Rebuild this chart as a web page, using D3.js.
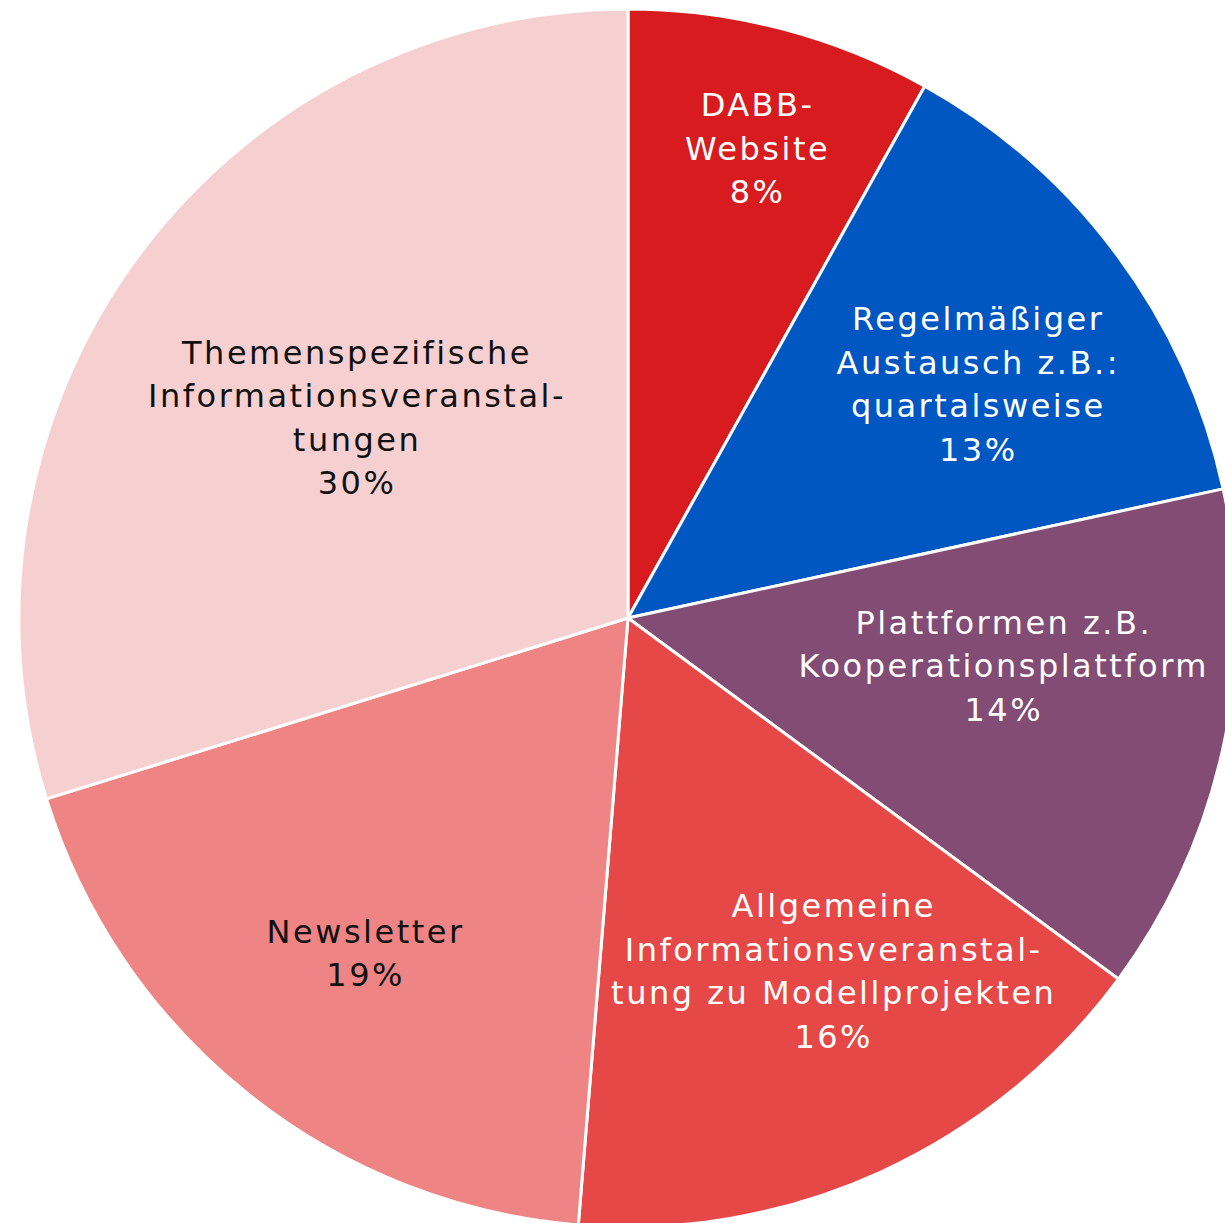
<!DOCTYPE html>
<html>
<head>
<meta charset="utf-8">
<script src="https://cdn.jsdelivr.net/npm/d3@7"></script>
<style>
  html, body { margin: 0; padding: 0; background: #fff; }
  svg { display: block; }
</style>
</head>
<body>
<div id="chart"></div>
<script>
const W = 1225, H = 1223
const CX = 628, CY = 618, R = 609

// data, clockwise from 12 o'clock
const categories = [
  "DABB-Website",
  "Regelmäßiger Austausch z.B.: quartalsweise",
  "Plattformen z.B. Kooperationsplattform",
  "Allgemeine Informationsveranstaltung zu Modellprojekten",
  "Newsletter",
  "Themenspezifische Informationsveranstaltungen"
]
const shares = [8.1, 13.5, 13.5, 16.2, 18.9, 29.8]
const pctLabels = ["8%", "13%", "14%", "16%", "19%", "30%"]
const labelLines = [
  ["DABB-", "Website"],
  ["Regelmäßiger", "Austausch z.B.:", "quartalsweise"],
  ["Plattformen z.B.", "Kooperationsplattform"],
  ["Allgemeine", "Informationsveranstal-", "tung zu Modellprojekten"],
  ["Newsletter"],
  ["Themenspezifische", "Informationsveranstal-", "tungen"]
]

const colors = ["#d71b1e", "#0057c2", "#834c74", "#e64848", "#ee8484", "#f6d0d0"]
const textColors = ["#fff", "#fff", "#fff", "#fff", "#111", "#111"]
// label placement: radius fraction and angle nudge (deg)
const labelSpots = [[0.80, 0.7], [0.69, 2.7], [0.62, -4.8], [0.67, -5.6], [0.70, -0.5], [0.555, 0]]

const svg = d3.select("#chart").append("svg")
  .attr("width", W)
  .attr("height", H)

const g = svg.append("g").attr("transform", `translate(${CX},${CY})`)

const pie = d3.pie().sort(null).value(d => d.v)
const arc = d3.arc().innerRadius(0).outerRadius(R)

const data = categories.map((c, i) => ({ name: c, v: shares[i], i }))
const arcs = pie(data)

g.selectAll("path.slice")
  .data(arcs)
  .enter().append("path")
    .attr("class", "slice")
    .attr("d", arc)
    .attr("fill", d => colors[d.data.i])
    .attr("stroke", "#fff")
    .attr("stroke-width", 3)
    .attr("stroke-linejoin", "round")

const LH = 43.5

const labels = g.selectAll("text.lbl")
  .data(arcs)
  .enter().append("text")
    .attr("class", "lbl")
    .attr("text-anchor", "middle")
    .attr("font-family", "'DejaVu Sans', 'Open Sans', sans-serif")
    .attr("font-size", 32)
    .attr("letter-spacing", 2.5)
    .attr("fill", d => textColors[d.data.i])
    .each(function(d) {
      const i = d.data.i
      const [rf, nudge] = labelSpots[i]
      const a = (d.startAngle + d.endAngle) / 2 + nudge * Math.PI / 180
      const r = R * rf
      const x = Math.sin(a) * r
      const y = -Math.cos(a) * r
      const lines = labelLines[i].concat([pctLabels[i]])
      const y0 = y - (lines.length - 1) * LH / 2 + 11.5
      const t = d3.select(this)
      lines.forEach((ln, k) => {
        t.append("tspan")
          .attr("x", x + 1.2)
          .attr("y", y0 + k * LH)
          .text(ln)
      })
    })
</script>
</body>
</html>
